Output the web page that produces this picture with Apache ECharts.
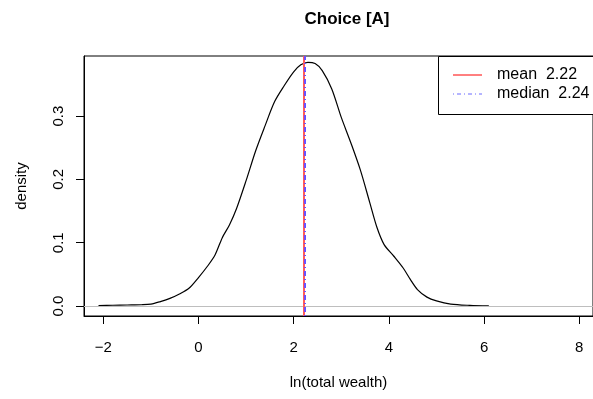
<!DOCTYPE html>
<html>
<head>
<meta charset="utf-8">
<script src="https://cdn.jsdelivr.net/npm/echarts@6/dist/echarts.min.js"></script>
<style>html,body{margin:0;padding:0;background:#fff}#c{width:593px;height:399px}</style>
</head>
<body>
<div id="c"></div>
<script>
// Density estimate of ln(total wealth)
const densX = [-2.1,-1.8,-1.5,-1.2,-1.0,-0.8,-0.6,-0.4,-0.2,0.0,0.2,0.35,0.5,0.65,0.8,1.0,1.2,1.4,1.6,1.8,2.0,2.15,2.3,2.45,2.6,2.8,3.0,3.2,3.4,3.6,3.75,3.9,4.1,4.3,4.45,4.6,4.8,5.0,5.3,5.7,6.1];
const densY = [0.0005,0.0012,0.0016,0.002,0.003,0.007,0.012,0.019,0.028,0.045,0.064,0.081,0.108,0.128,0.154,0.198,0.245,0.285,0.323,0.348,0.370,0.381,0.385,0.383,0.372,0.343,0.298,0.258,0.215,0.163,0.124,0.097,0.079,0.060,0.042,0.026,0.014,0.008,0.003,0.001,0.0002];
const meanVal = 2.22;
const medianVal = 2.24;
const xTicks = [-2,0,2,4,6,8];
const yTicks = [0.0,0.1,0.2,0.3];
const titleText = 'Choice [A]';
const xLabel = 'ln(total wealth)';
const yLabel = 'density';
const legendLabels = ['mean  ' + meanVal.toFixed(2), 'median  ' + medianVal.toFixed(2)];

const FONT = 'Liberation Sans, Arial, sans-serif';
const X_MIN = -2.405, X_MAX = 8.288, Y_MIN = -0.0158, Y_MAX = 0.395;
const TICK_DX = 0.168, TICK_DY = 0.0126; // 8px tick length in axis units
const tickSegs = xTicks.map(v=>[{coord:[v,Y_MIN]},{coord:[v,Y_MIN-TICK_DY]}])
  .concat(yTicks.map(v=>[{coord:[X_MIN,v]},{coord:[X_MIN-TICK_DX,v]}]));
const chart = echarts.init(document.getElementById('c'), null, {renderer:'canvas'});
chart.setOption({
  animation:false,
  title:{text:titleText,left:342,top:6,textAlign:'center',textStyle:{fontFamily:FONT,fontSize:17,fontWeight:'bold',color:'#000'}},
  grid:{left:84,top:56,right:0,bottom:83,outerBoundsMode:'none',containLabel:false,show:true,borderColor:'#000',borderWidth:1,backgroundColor:'transparent'},
  xAxis:{type:'value',min:X_MIN,max:X_MAX,
    name:xLabel,nameLocation:'middle',nameGap:59,nameTextStyle:{fontFamily:FONT,fontSize:15,color:'#000'},
    axisLine:{show:true,onZero:false,lineStyle:{color:'#000',width:1}},splitLine:{show:false},
    axisTick:{show:true,length:8,customValues:xTicks,lineStyle:{color:'#000',width:1}},
    axisLabel:{customValues:xTicks,margin:24,fontFamily:FONT,fontSize:15,color:'#000',formatter:v=>String(v).replace('-','\u2212')}},
  yAxis:{type:'value',min:Y_MIN,max:Y_MAX,
    name:yLabel,nameLocation:'middle',nameGap:55,nameRotate:90,nameTextStyle:{fontFamily:FONT,fontSize:15,color:'#000'},
    axisLine:{show:true,onZero:false,lineStyle:{color:'#000',width:1}},splitLine:{show:false},
    axisTick:{show:true,length:8,customValues:yTicks,lineStyle:{color:'#000',width:1}},
    axisLabel:{customValues:yTicks,rotate:90,margin:18,fontFamily:FONT,fontSize:15,color:'#000',formatter:v=>v.toFixed(1)}},
  series:[
    {type:'line',data:densX.map((x,i)=>[x,densY[i]]),showSymbol:false,smooth:0.3,clip:false,
     lineStyle:{color:'#000',width:1.2},z:3,
     markLine:{silent:true,symbol:'none',label:{show:false},animation:false,
       data:[
         {yAxis:0,lineStyle:{color:'#bebebe',width:1,type:'solid'}},
         {xAxis:meanVal,lineStyle:{color:'#ff5a5a',width:2,type:'solid'}},
         {xAxis:medianVal,lineStyle:{color:'#6a50ff',width:2,type:[1,3,5,3]}}
       ].concat(tickSegs.map(s=>[Object.assign({lineStyle:{color:'#000',width:1,type:'solid'}},s[0]),s[1]]))}}
  ],
  graphic:[
    {type:'rect',shape:{x:438.5,y:56.5,width:170,height:58},style:{fill:'#fff',stroke:'#000',lineWidth:1},z:10},
    {type:'line',shape:{x1:453,y1:75,x2:482,y2:75},style:{stroke:'#ff0000',lineWidth:1},z:11},
    {type:'line',shape:{x1:453,y1:94,x2:482,y2:94},style:{stroke:'#6a6aff',lineWidth:1,lineDash:[1,3,4,3]},z:11},
    {type:'text',x:497,y:75,style:{text:legendLabels[0],fontFamily:FONT,fontSize:16,fill:'#000',textVerticalAlign:'middle'},z:11},
    {type:'text',x:497,y:94,style:{text:legendLabels[1],fontFamily:FONT,fontSize:16,fill:'#000',textVerticalAlign:'middle'},z:11}
  ]
});
</script>
</body>
</html>
